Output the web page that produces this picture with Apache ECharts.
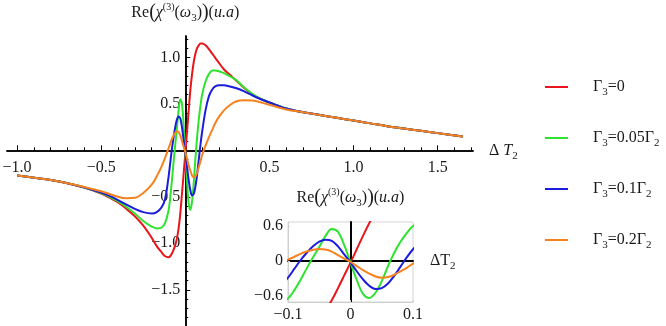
<!DOCTYPE html>
<html>
<head>
<meta charset="utf-8">
<script src="https://cdn.jsdelivr.net/npm/echarts@6.0.0/dist/echarts.min.js"></script>
<style>
  html, body { margin: 0; padding: 0; background: #fff; }
  #chart { width: 666px; height: 326px; }
</style>
</head>
<body>
<div id="chart"></div>
<script>
// ΔT2 sample positions (denser near the origin where the curves turn sharply)
const dT = [-1.0, -0.9, -0.8, -0.7, -0.6, -0.5, -0.45, -0.4, -0.35, -0.3, -0.25, -0.2, -0.17, -0.14, -0.12, -0.1,
  -0.09, -0.08, -0.07, -0.06, -0.05, -0.04, -0.03, -0.02, -0.01, 0, 0.01, 0.02, 0.03, 0.04, 0.05, 0.06, 0.07, 0.08,
  0.09, 0.1, 0.12, 0.14, 0.16, 0.18, 0.2, 0.23, 0.26, 0.3, 0.35, 0.4, 0.45, 0.5, 0.6, 0.7, 0.8, 0.9, 1.0, 1.1, 1.2,
  1.3, 1.4, 1.5, 1.65];

// Re(chi3)
const reG0 = [-0.27, -0.295, -0.32, -0.355, -0.40, -0.465, -0.51, -0.56, -0.63, -0.71, -0.81, -0.94, -1.03, -1.10, -1.14, -1.15,
  -1.14, -1.11, -1.07, -1.02, -0.95, -0.84, -0.68, -0.47, -0.25, -0.03, 0.20, 0.43, 0.65, 0.82, 0.95, 1.04, 1.10, 1.13,
  1.15, 1.15, 1.13, 1.09, 1.04, 0.99, 0.94, 0.87, 0.82, 0.755, 0.67, 0.60, 0.55, 0.515, 0.45, 0.41, 0.38, 0.35, 0.32, 0.29, 0.26,
  0.235, 0.21, 0.185, 0.15];
const reG005 = [-0.27, -0.295, -0.32, -0.355, -0.40, -0.46, -0.50, -0.55, -0.61, -0.68, -0.76, -0.82, -0.84, -0.83, -0.78, -0.65,
  -0.51, -0.33, -0.13, 0.06, 0.24, 0.43, 0.55, 0.50, 0.27, -0.03, -0.33, -0.57, -0.64, -0.55, -0.35, -0.09, 0.14, 0.33,
  0.48, 0.60, 0.74, 0.82, 0.86, 0.86, 0.85, 0.83, 0.80, 0.76, 0.675, 0.605, 0.552, 0.515, 0.45, 0.41, 0.38, 0.35, 0.32, 0.29, 0.26,
  0.235, 0.21, 0.185, 0.15];
const reG01 = [-0.27, -0.295, -0.32, -0.355, -0.40, -0.455, -0.49, -0.535, -0.585, -0.63, -0.665, -0.68, -0.665, -0.61, -0.52, -0.29,
  -0.14, 0.01, 0.14, 0.25, 0.33, 0.365, 0.345, 0.25, 0.11, -0.03, -0.18, -0.32, -0.43, -0.485, -0.47, -0.39, -0.26, -0.10,
  0.06, 0.20, 0.43, 0.58, 0.655, 0.69, 0.70, 0.70, 0.69, 0.67, 0.635, 0.59, 0.55, 0.515, 0.45, 0.41, 0.38, 0.35, 0.32, 0.29, 0.26,
  0.235, 0.21, 0.185, 0.15];
const reG02 = [-0.27, -0.295, -0.32, -0.355, -0.395, -0.44, -0.47, -0.50, -0.515, -0.51, -0.46, -0.37, -0.28, -0.17, -0.08, 0.02,
  0.07, 0.12, 0.16, 0.19, 0.205, 0.195, 0.16, 0.10, 0.04, -0.02, -0.09, -0.16, -0.22, -0.27, -0.29, -0.28, -0.24, -0.18,
  -0.12, -0.05, 0.05, 0.14, 0.22, 0.30, 0.36, 0.43, 0.48, 0.525, 0.54, 0.535, 0.515, 0.49, 0.44, 0.41, 0.38, 0.35, 0.32, 0.29, 0.26,
  0.235, 0.21, 0.185, 0.15];

const seriesNames = ['Γ3=0', 'Γ3=0.05Γ2', 'Γ3=0.1Γ2', 'Γ3=0.2Γ2'];
const seriesData = [reG0, reG005, reG01, reG02];
const colors = ['#e8161c', '#2ee32e', '#1c1cdc', '#f5821e'];

// tick positions
const xMajor = [-1.0, -0.5, 0.5, 1.0, 1.5];
const xMinor = [-1.0, -0.9, -0.8, -0.7, -0.6, -0.5, -0.4, -0.3, -0.2, -0.1, 0.1, 0.2, 0.3, 0.4, 0.5, 0.6, 0.7, 0.8, 0.9,
  1.0, 1.1, 1.2, 1.3, 1.4, 1.5, 1.6, 1.7];
const yMajor = [-1.5, -1.0, -0.5, 0.5, 1.0];
const yMinor = [-1.8, -1.7, -1.6, -1.5, -1.4, -1.3, -1.2, -1.1, -1.0, -0.9, -0.8, -0.7, -0.6, -0.5, -0.4, -0.3, -0.2, -0.1,
  0.1, 0.2, 0.3, 0.4, 0.5, 0.6, 0.7, 0.8, 0.9, 1.0, 1.1, 1.2];
const insetXTicks = [-0.1, 0, 0.1];
const insetYTicks = [-0.6, 0, 0.6];

const fam = "'Liberation Serif', 'Times New Roman', serif";
const ink = '#1a1a1a';
const rich = {
  n: { fontFamily: fam, fontSize: 16, color: ink, lineHeight: 22 },
  i: { fontFamily: fam, fontSize: 16, fontStyle: 'italic', color: ink, lineHeight: 22 },
  b: { fontFamily: fam, fontSize: 20, color: ink, lineHeight: 22 },
  sub: { fontFamily: fam, fontSize: 11, color: ink, lineHeight: 12, verticalAlign: 'bottom' },
  sup: { fontFamily: fam, fontSize: 10, color: ink, lineHeight: 12, verticalAlign: 'top' },
  gap: { width: 20 }
};

const chiLabel = '{n|Re}{b|(}{i|χ}{sup|(3)}{n|(}{i|ω}{sub|3}{n|)}{b|)}{n|(}{i|u.a}{n|)}';
const fmt = v => (v === 0 ? '0' : (v < 0 ? '\u2212' : '') + Math.abs(v).toFixed(1));
const gammaRich = s => s.split(/(Γ\d)/).filter(Boolean)
  .map(p => (/^Γ\d$/.test(p) ? '{n|Γ}{sub|' + p[1] + '}' : '{n|' + p + '}')).join('');

const labelFont = { fontFamily: fam, fontSize: 16, color: ink };
const blackLine = { color: '#000', width: 1.5 };

// main plot box; the axes cross at the origin, so shift them in from the box edges
const main = { left: 7, top: 36, width: 466, height: 290, xMin: -1.06, xMax: 1.71, yMin: -1.89, yMax: 1.23 };
const zeroX = main.width * (0 - main.xMin) / (main.xMax - main.xMin);
const zeroY = main.height * (main.yMax - 0) / (main.yMax - main.yMin);

const chart = echarts.init(document.getElementById('chart'));

const mainX = (ticks, len, labels) => ({
  type: 'value', gridIndex: 0, min: main.xMin, max: main.xMax, position: 'bottom',
  offset: -(main.height - zeroY),
  axisLine: { onZero: false, lineStyle: blackLine },
  axisTick: { inside: true, length: len, customValues: ticks, lineStyle: { color: '#000', width: 1 } },
  axisLabel: labels ? Object.assign({ customValues: xMajor, formatter: fmt, margin: 9 }, labelFont) : { show: false },
  splitLine: { show: false }
});
const mainY = (ticks, len, labels) => ({
  type: 'value', gridIndex: 0, min: main.yMin, max: main.yMax, position: 'left',
  offset: -zeroX,
  axisLine: { onZero: false, lineStyle: blackLine },
  axisTick: { inside: true, length: len, customValues: ticks, lineStyle: { color: '#000', width: 1 } },
  axisLabel: labels ? Object.assign({ customValues: yMajor, formatter: fmt, margin: 5 }, labelFont) : { show: false },
  splitLine: { show: false }
});

const xAxes = [
  Object.assign(mainX(xMajor, 5, true), {
    name: '{n|Δ }{i|T}{sub|2}', nameLocation: 'end', nameGap: 16, nameTextStyle: { rich }
  }),
  mainX(xMinor, 3, false),
  {
    type: 'value', gridIndex: 1, min: -0.1, max: 0.1, position: 'bottom',
    axisLine: { onZero: false, lineStyle: { color: '#cfcfcf', width: 1 } },
    axisTick: { inside: true, length: 2, customValues: insetXTicks, lineStyle: { color: '#cfcfcf' } },
    axisLabel: Object.assign({ customValues: insetXTicks, formatter: fmt, margin: 5 }, labelFont),
    splitLine: { show: false }
  },
  {
    type: 'value', gridIndex: 1, min: -0.1, max: 0.1, position: 'bottom',
    axisLine: { onZero: true, onZeroAxisIndex: 2, lineStyle: { color: '#000', width: 2 } },
    axisTick: { show: false }, axisLabel: { show: false }, splitLine: { show: false },
    name: '{n|ΔT}{sub|2}', nameLocation: 'end', nameGap: 17, nameTextStyle: { rich }
  }
];

const yAxes = [
  Object.assign(mainY(yMajor, 5, true), {
    name: chiLabel, nameLocation: 'end', nameGap: 12, nameTextStyle: { rich }
  }),
  mainY(yMinor, 3, false),
  {
    type: 'value', gridIndex: 1, min: -0.71, max: 0.67, position: 'left',
    axisLine: { onZero: false, lineStyle: { color: '#cfcfcf', width: 1 } },
    axisTick: { inside: true, length: 2, customValues: insetYTicks, lineStyle: { color: '#cfcfcf' } },
    axisLabel: Object.assign({ customValues: insetYTicks, formatter: fmt, margin: 5 }, labelFont),
    splitLine: { show: false }
  },
  {
    type: 'value', gridIndex: 1, min: -0.71, max: 0.67, position: 'left',
    axisLine: { onZero: true, onZeroAxisIndex: 2, lineStyle: { color: '#000', width: 2 } },
    axisTick: { show: false }, axisLabel: { show: false }, splitLine: { show: false },
    name: chiLabel, nameLocation: 'end', nameGap: 13, nameTextStyle: { rich }
  }
];

const lineSeries = (idx, xi, yi) => ({
  name: seriesNames[idx],
  type: 'line',
  xAxisIndex: xi,
  yAxisIndex: yi,
  data: dT.map((x, k) => [x, seriesData[idx][k]]),
  symbol: 'none',
  smooth: 0.35,
  lineStyle: { color: colors[idx], width: 2 },
  itemStyle: { color: colors[idx] },
  silent: true,
  z: 3 + idx
});

chart.setOption({
  animation: false,
  backgroundColor: '#fff',
  grid: [
    { left: main.left, top: main.top, width: main.width, height: main.height, containLabel: false, outerBoundsMode: 'none' },
    { left: 288, top: 222, width: 125, height: 80, containLabel: false, outerBoundsMode: 'none',
      show: true, borderColor: '#d4d4d4', borderWidth: 1, backgroundColor: 'transparent' }
  ],
  legend: {
    orient: 'vertical', left: 540, top: 74, itemWidth: 23, itemHeight: 2, itemGap: 32,
    icon: 'rect',
    data: seriesNames,
    formatter: n => '{gap|}' + gammaRich(n),
    textStyle: { rich, fontFamily: fam, fontSize: 16, color: ink },
    selectedMode: false
  },
  xAxis: xAxes,
  yAxis: yAxes,
  series: [0, 1, 2, 3].map(i => lineSeries(i, 0, 0)).concat([0, 1, 2, 3].map(i => lineSeries(i, 2, 2)))
});
</script>
</body>
</html>
